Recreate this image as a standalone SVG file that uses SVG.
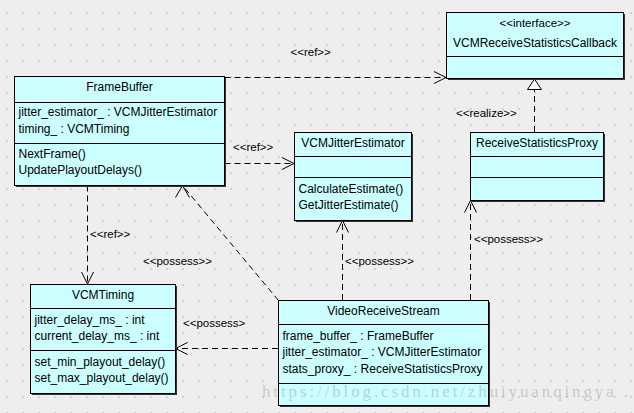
<svg xmlns="http://www.w3.org/2000/svg" width="634" height="413" viewBox="0 0 634 413">
<style>
.box{fill:#ccffff;stroke:#000;stroke-width:1}
.shadow{fill:#333}
.sep{stroke:#000;stroke-width:1}
text{font-family:"Liberation Sans",Arial,sans-serif;font-size:12px;fill:#000}
.c{text-anchor:middle}
.lbl{font-size:11.5px}
.dash{fill:none;stroke:#000;stroke-width:1;stroke-dasharray:6,4}
.wm{font-family:"Liberation Serif","DejaVu Serif",serif;font-size:17px;fill:#888;fill-opacity:0.38}
</style>
<defs>
<pattern id="grid" x="0" y="0" width="16" height="16" patternUnits="userSpaceOnUse">
<rect x="6" y="12" width="2" height="2" fill="#d2d2d2"/>
</pattern>
<marker id="open" markerUnits="userSpaceOnUse" markerWidth="14" markerHeight="14" refX="12" refY="6" orient="auto" overflow="visible">
<path d="M0,0 L12,6 L0,12" fill="none" stroke="#000" stroke-width="1"/>
</marker>
<marker id="openUp" markerUnits="userSpaceOnUse" markerWidth="14" markerHeight="14" refX="12" refY="7" orient="270" overflow="visible">
<path d="M0,0 L12,7 L0,14" fill="none" stroke="#000" stroke-width="1"/>
</marker>
<marker id="tri" markerUnits="userSpaceOnUse" markerWidth="14" markerHeight="16" refX="10.5" refY="7" orient="auto" overflow="visible">
<path d="M0,0 L10.5,7 L0,14 Z" fill="#fff" stroke="#000" stroke-width="1"/>
</marker>
</defs>
<rect width="634" height="413" fill="#eeeeee"/>
<rect width="634" height="413" fill="url(#grid)"/>

<g id="connectors">
<path class="dash" d="M224.5,77.5 L446,77.5" marker-end="url(#open)"/>
<text class="lbl" x="290.5" y="55.5">&lt;&lt;ref&gt;&gt;</text>
<path class="dash" d="M224.5,163.5 L294,163.5" marker-end="url(#open)"/>
<text class="lbl" x="233" y="151">&lt;&lt;ref&gt;&gt;</text>
<path class="dash" d="M87.5,185.5 L87.5,284" marker-end="url(#open)"/>
<text class="lbl" x="90" y="237.5">&lt;&lt;ref&gt;&gt;</text>
<path class="dash" d="M278.5,300.5 L182.5,185.5" marker-end="url(#openUp)"/>
<text class="lbl" x="143" y="265">&lt;&lt;possess&gt;&gt;</text>
<path class="dash" d="M342.5,300 L342.5,220.5" marker-end="url(#open)"/>
<text class="lbl" x="345" y="264.5">&lt;&lt;possess&gt;&gt;</text>
<path class="dash" d="M470.5,300 L470.5,200.5" marker-end="url(#open)"/>
<text class="lbl" x="474" y="242.5">&lt;&lt;possess&gt;&gt;</text>
<path class="dash" d="M278,348.5 L175.5,348.5" marker-end="url(#open)"/>
<text class="lbl" x="183" y="327">&lt;&lt;possess&gt;</text>
<path class="dash" d="M534.5,132 L534.5,79" marker-end="url(#tri)"/>
<text class="lbl" x="456" y="117">&lt;&lt;realize&gt;&gt;</text>
</g>

<g id="FrameBuffer">
<rect class="shadow" x="16" y="78" width="210" height="109"/>
<rect class="box" x="14.5" y="76.5" width="210" height="109"/>
<line class="sep" x1="14.5" y1="102.5" x2="224.5" y2="102.5"/>
<line class="sep" x1="14.5" y1="143.5" x2="224.5" y2="143.5"/>
<text class="c" x="119.5" y="90.5">FrameBuffer</text>
<text x="18.5" y="116">jitter_estimator_ : VCMJitterEstimator</text>
<text x="18.5" y="132.5">timing_ : VCMTiming</text>
<text x="18.5" y="157.5">NextFrame()</text>
<text x="18.5" y="174">UpdatePlayoutDelays()</text>
</g>

<g id="VCMJitterEstimator">
<rect class="shadow" x="296" y="134" width="117" height="88"/>
<rect class="box" x="294.5" y="132.5" width="117" height="88"/>
<line class="sep" x1="294.5" y1="156.5" x2="411.5" y2="156.5"/>
<line class="sep" x1="294.5" y1="177.5" x2="411.5" y2="177.5"/>
<text class="c" x="353" y="147">VCMJitterEstimator</text>
<text x="298.5" y="192.5">CalculateEstimate()</text>
<text x="298.5" y="208.5">GetJitterEstimate()</text>
</g>

<g id="VCMReceiveStatisticsCallback">
<rect class="shadow" x="448" y="14" width="177" height="66"/>
<rect class="box" x="446.5" y="12.5" width="177" height="66"/>
<line class="sep" x1="446.5" y1="56.5" x2="623.5" y2="56.5"/>
<text class="c lbl" x="535" y="26.5">&lt;&lt;interface&gt;&gt;</text>
<text class="c" x="535" y="46.5">VCMReceiveStatisticsCallback</text>
</g>

<g id="ReceiveStatisticsProxy">
<rect class="shadow" x="472" y="134" width="133" height="68"/>
<rect class="box" x="470.5" y="132.5" width="133" height="68"/>
<line class="sep" x1="470.5" y1="156.5" x2="603.5" y2="156.5"/>
<line class="sep" x1="470.5" y1="177.5" x2="603.5" y2="177.5"/>
<text class="c" x="537" y="147">ReceiveStatisticsProxy</text>
</g>

<g id="VCMTiming">
<rect class="shadow" x="32" y="286" width="145" height="109"/>
<rect class="box" x="30.5" y="284.5" width="145" height="109"/>
<line class="sep" x1="30.5" y1="308.5" x2="175.5" y2="308.5"/>
<line class="sep" x1="30.5" y1="350.5" x2="175.5" y2="350.5"/>
<text class="c" x="103" y="298.5">VCMTiming</text>
<text x="34.5" y="323.5">jitter_delay_ms_ : int</text>
<text x="34.5" y="340">current_delay_ms_ : int</text>
<text x="34.5" y="365.5">set_min_playout_delay()</text>
<text x="34.5" y="382">set_max_playout_delay()</text>
</g>

<g id="VideoReceiveStream">
<rect class="shadow" x="280" y="302" width="210" height="105"/>
<rect class="box" x="278.5" y="300.5" width="210" height="105"/>
<line class="sep" x1="278.5" y1="324.5" x2="488.5" y2="324.5"/>
<line class="sep" x1="278.5" y1="383.5" x2="488.5" y2="383.5"/>
<text class="c" x="383.5" y="314.5">VideoReceiveStream</text>
<text x="282.5" y="339.5">frame_buffer_ : FrameBuffer</text>
<text x="282.5" y="356">jitter_estimator_ : VCMJitterEstimator</text>
<text x="282.5" y="372.5">stats_proxy_ : ReceiveStatisticsProxy</text>
</g>

<text class="wm" x="262" y="397" textLength="366" lengthAdjust="spacing">https://blog.csdn.net/zhuiyuanqingya .</text>
</svg>
